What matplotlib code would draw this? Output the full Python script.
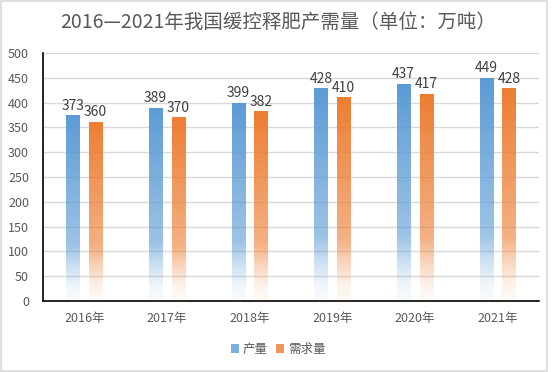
import numpy as np
import matplotlib
matplotlib.use("Agg")
import matplotlib.pyplot as plt
from matplotlib.colors import to_rgb
from matplotlib.patches import Rectangle, Patch

plt.rcParams['font.family'] = ['Noto Sans CJK SC', 'DejaVu Sans']

categories = ['2016年', '2017年', '2018年', '2019年', '2020年', '2021年']
production = [373, 389, 399, 428, 437, 449]
demand = [360, 370, 382, 410, 417, 428]
series_names = ['产量', '需求量']
colors = ['#5B9BD5', '#ED7D31']
title = '2016—2021年我国缓控释肥产需量（单位：万吨）'

fig = plt.figure(figsize=(5.56, 3.72), dpi=100)
ax = fig.add_axes([43/556, 1-301/372, (539-43)/556, (301-53)/372])

x = np.arange(len(categories))
w = 0.16
off = 0.137

def grad_img(color):
    rgb = np.array(to_rgb(color))
    t = np.linspace(0, 1, 256)[:, None]  # 0 bottom -> 1 top
    a = np.interp(t[:, 0], [0, 0.08, 0.2, 0.3, 1.0], [0.04, 0.1, 0.35, 0.6, 1.0])
    img = np.ones((256, 1, 4))
    img[:, 0, :3] = rgb
    img[:, 0, 3] = a
    return img

label_color = '#404040'
for vals, col, sgn in [(production, colors[0], -1), (demand, colors[1], 1)]:
    img = grad_img(col)
    for xi, v in zip(x, vals):
        cx = xi + sgn * off
        ax.imshow(img, extent=[cx - w/2, cx + w/2, 0, v], origin='lower',
                  aspect='auto', interpolation='bilinear', zorder=3)
        ax.text(cx, v + 6, str(v), ha='center', va='bottom', fontsize=10,
                color=label_color, zorder=4)

ax.set_xlim(-0.5, len(categories) - 0.5)
ax.set_ylim(0, 500)
ax.set_yticks(np.arange(0, 501, 50))
ax.set_xticks(x)
ax.set_xticklabels(categories)
ax.tick_params(axis='both', length=0, labelsize=9, labelcolor='#595959')
ax.tick_params(axis='y', pad=10)
ax.tick_params(axis='x', pad=8)
ax.grid(axis='y', color='#D9D9D9', linewidth=1, zorder=0)
ax.set_axisbelow(True)
for s in ['top', 'right']:
    ax.spines[s].set_visible(False)
for s in ['left', 'bottom']:
    ax.spines[s].set_color('black')
    ax.spines[s].set_linewidth(1.2)

fig.text(0.5, 1 - 22/372, title, ha='center', va='center', fontsize=14,
         color='#595959')

handles = [Patch(facecolor=c, edgecolor='none', alpha=0.8) for c in colors]
fig.legend(handles, series_names, loc='center', bbox_to_anchor=(0.5, 1 - 349/372),
           ncol=2, frameon=False, fontsize=9, handlelength=0.7, handleheight=0.7,
           handletextpad=0.3, columnspacing=0.6, labelcolor='#595959')

fig.patches.append(Rectangle((0.002, 0.003), 0.981, 0.994, transform=fig.transFigure,
                             fill=False, edgecolor='#D9D9D9', linewidth=1.2))

fig.savefig('out.png', dpi=100)
